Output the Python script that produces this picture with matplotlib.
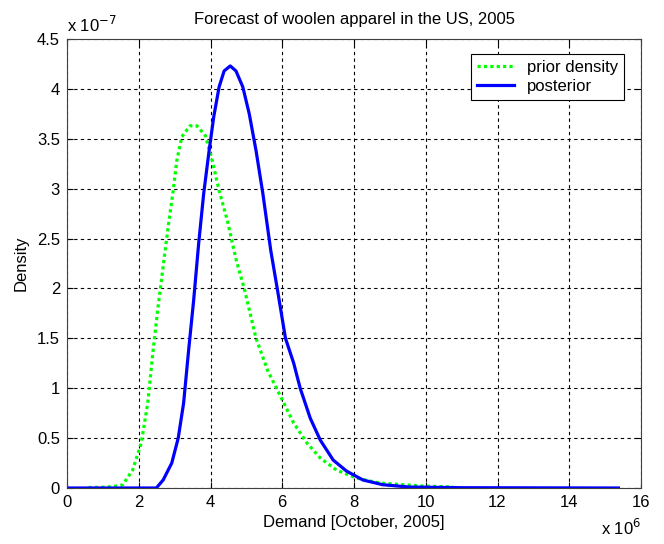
import matplotlib
matplotlib.use("Agg")
import matplotlib.pyplot as plt

# demand in units of 1e6, density in units of 1e-7
prior_x = [0.6, 1.0, 1.3, 1.55, 1.83, 2.07, 2.25, 2.40, 2.54, 2.68, 2.82, 2.96, 3.06,
           3.20, 3.43, 3.62, 3.86, 4.05, 4.24, 4.47, 4.72, 4.94, 5.27, 5.59, 5.95,
           6.32, 6.69, 7.06, 7.51, 8.06, 8.71, 9.90, 10.76]
prior_y = [0.005, 0.008, 0.015, 0.03, 0.18, 0.45, 0.85, 1.38, 1.82, 2.22, 2.62, 2.98, 3.28,
           3.52, 3.63, 3.63, 3.53, 3.28, 2.98, 2.68, 2.28, 2.0, 1.5, 1.18, 0.92,
           0.65, 0.45, 0.30, 0.18, 0.10, 0.05, 0.02, 0.01]

post_x = [0.0, 2.49, 2.68, 2.92, 3.10, 3.25, 3.39, 3.53, 3.67, 3.81, 3.95, 4.09, 4.24,
          4.38, 4.55, 4.71, 4.90, 5.08, 5.27, 5.46, 5.68, 5.86, 6.09, 6.32, 6.50, 6.78,
          7.06, 7.42, 7.79, 8.25, 8.80, 9.53, 11.0, 15.37]
post_y = [0.0, 0.0, 0.08, 0.25, 0.50, 0.85, 1.38, 1.88, 2.45, 2.95, 3.35, 3.72, 4.02,
          4.18, 4.23, 4.18, 4.02, 3.75, 3.38, 2.95, 2.38, 2.0, 1.5, 1.25, 1.0, 0.70,
          0.48, 0.28, 0.17, 0.08, 0.033, 0.01, 0.003, 0.0]

x_ticks = [0, 2, 4, 6, 8, 10, 12, 14, 16]
y_ticks = [0, 0.5, 1, 1.5, 2, 2.5, 3, 3.5, 4, 4.5]
y_tick_labels = ['0', '0.5', '1', '1.5', '2', '2.5', '3', '3.5', '4', '4.5']

plt.rcParams['font.family'] = ['Liberation Sans', 'DejaVu Sans']
fs = 12

fig = plt.figure(figsize=(6.64, 5.44), dpi=100)
ax = fig.add_axes([67/664, 56/544, 574/664, 449/544])

ax.plot(prior_x, prior_y, color=(0, 1, 0), lw=2.3, ls=(0, (1, 1)), label='prior density')
ax.plot(post_x, post_y, color=(0, 0, 1), lw=2.3, label='posterior')

ax.set_xlim(0, 16)
ax.set_ylim(0, 4.5)
ax.set_xticks(x_ticks)
ax.set_xticklabels([str(t) for t in x_ticks])
ax.set_yticks(y_ticks)
ax.set_yticklabels(y_tick_labels)
ax.grid(True, color='k', ls=(0, (3, 3)), lw=0.8)
ax.tick_params(direction='in', top=True, right=True, length=4, width=0.8,
               labelsize=fs, pad=5)
for s in ax.spines.values():
    s.set_linewidth(0.8)
    s.set_color('#404040')

ax.set_title('Forecast of woolen apparel in the US, 2005', fontsize=fs, pad=11)
ax.set_xlabel('Demand [October, 2005]', fontsize=fs, labelpad=4)
ax.set_ylabel('Density', fontsize=fs, labelpad=6)

ax.text(0.0, 1.01, r'x 10$^{-7}$', transform=ax.transAxes, fontsize=fs, va='bottom', ha='left')
ax.text(1.0, -0.066, r'x 10$^{6}$', transform=ax.transAxes, fontsize=fs, va='top', ha='right')

leg = ax.legend(loc='upper right', bbox_to_anchor=(0.985, 0.985), fancybox=False, framealpha=1,
                edgecolor='k', fontsize=fs, handlelength=2.2, borderpad=0.35, labelspacing=0.25,
                handletextpad=0.8)
leg.get_frame().set_linewidth(0.8)

fig.savefig('out.png', dpi=100)
